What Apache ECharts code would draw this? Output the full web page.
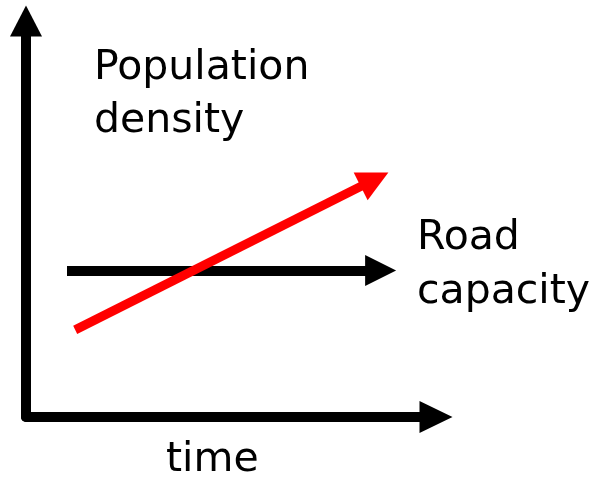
<!DOCTYPE html>
<html>
<head>
<meta charset="utf-8">
<script src="https://cdn.jsdelivr.net/npm/echarts@6/dist/echarts.min.js"></script>
<style>
  html, body { margin: 0; padding: 0; background: #fff; }
  #chart { width: 605px; height: 480px; }
</style>
</head>
<body>
<div id="chart"></div>
<script>
// arbitrary units, 0..10 on both axes
var roadCapacity = [[1.0, 3.7], [8.65, 3.7]];
var populationDensity = [[1.2, 2.2], [8.5, 6.0]];
var yLabel = ['Population', 'density'];
var lineLabel = ['Road', 'capacity'];
var xLabel = 'time';

var font = '41px "Comic Sans MS", "DejaVu Sans", sans-serif';

var chartDom = document.getElementById('chart');
var myChart = echarts.init(chartDom);

var option = {
  backgroundColor: '#fff',
  animation: false,
  grid: {
    left: 26,
    top: 21,
    width: 410,
    height: 396,
    containLabel: false,
    outerBoundsMode: 'none'
  },
  xAxis: {
    type: 'value',
    min: 0,
    max: 10,
    axisLine: {
      show: true,
      symbol: ['none', 'triangle'],
      symbolSize: [32, 33],
      lineStyle: { color: '#000', width: 10 }
    },
    axisTick: { show: false },
    axisLabel: { show: false },
    splitLine: { show: false }
  },
  yAxis: {
    type: 'value',
    min: 0,
    max: 10,
    axisLine: {
      show: true,
      symbol: ['none', 'triangle'],
      symbolSize: [32, 31],
      lineStyle: { color: '#000', width: 10 }
    },
    axisTick: { show: false },
    axisLabel: { show: false },
    splitLine: { show: false }
  },
  series: [
    {
      name: 'Road capacity',
      type: 'lines',
      coordinateSystem: 'cartesian2d',
      symbol: ['none', 'triangle'],
      symbolSize: 31,
      lineStyle: { color: '#000', width: 10, opacity: 1 },
      data: [{ coords: roadCapacity }],
      z: 3
    },
    {
      name: 'Population density',
      type: 'lines',
      coordinateSystem: 'cartesian2d',
      symbol: ['none', 'triangle'],
      symbolSize: 31,
      lineStyle: { color: '#ff0000', width: 9, opacity: 1 },
      data: [{ coords: populationDensity }],
      z: 4
    }
  ],
  graphic: [
    {
      type: 'text',
      left: 94,
      top: 42,
      style: {
        text: yLabel.join('\n'),
        font: font,
        lineHeight: 53,
        fill: '#000'
      }
    },
    {
      type: 'text',
      left: 417,
      top: 211,
      style: {
        text: lineLabel.join('\n'),
        font: font,
        lineHeight: 54,
        fill: '#000'
      }
    },
    {
      type: 'text',
      left: 166,
      top: 434,
      style: {
        text: xLabel,
        font: font,
        lineHeight: 53,
        fill: '#000'
      }
    }
  ]
};

option && myChart.setOption(option);
</script>
</body>
</html>
